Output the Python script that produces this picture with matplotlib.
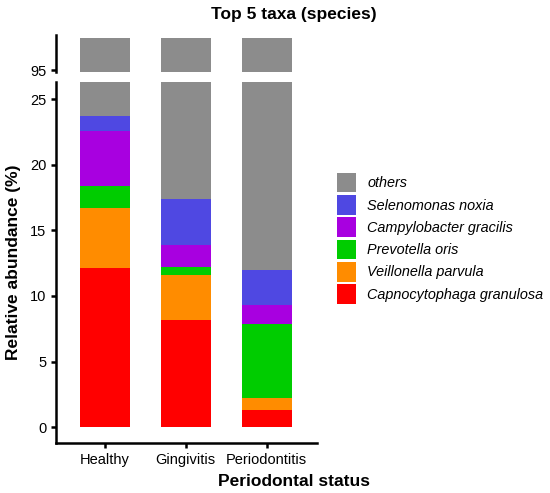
import matplotlib
matplotlib.use('Agg')
import numpy as np
import matplotlib.pyplot as plt
from matplotlib.patches import Patch

plt.rcParams['font.family'] = ['Liberation Sans', 'DejaVu Sans']

# data (relative abundance %)
groups = ['Healthy', 'Gingivitis', 'Periodontitis']
taxa = ['Capnocytophaga granulosa', 'Veillonella parvula', 'Prevotella oris',
        'Campylobacter gracilis', 'Selenomonas noxia', 'others']
capnocytophaga = [12.1, 8.17, 1.30]
veillonella = [4.6, 3.46, 0.89]
prevotella = [1.65, 0.56, 5.70]
campylobacter = [4.25, 1.66, 1.42]
selenomonas = [1.1, 3.53, 2.69]
others = [76.3, 82.62, 88.0]
colors = ['#FF0000', '#FF8C00', '#00CC00', '#A800E0', '#4F48E2', '#8C8C8C']

series = [capnocytophaga, veillonella, prevotella, campylobacter, selenomonas, others]

fig = plt.figure(figsize=(5.5, 4.93), dpi=100)
ax_lo = fig.add_axes([56/550, 1-443/493, 261/550, 361/493])
ax_hi = fig.add_axes([56/550, 1-72/493, 261/550, 37/493])

x = np.arange(1, len(groups) + 1)
for ax in (ax_lo, ax_hi):
    bottom = np.zeros(len(groups))
    for vals, col in zip(series, colors):
        ax.bar(x, vals, bottom=bottom, width=0.62, color=col, linewidth=0)
        bottom += np.array(vals)
    ax.set_xlim(0.4, 3.62)
    for s in ['top', 'right']:
        ax.spines[s].set_visible(False)
    ax.spines['left'].set_linewidth(1.8)
    ax.tick_params(axis='both', width=1.8, length=3.5, labelsize=10.5, colors='black')

ax_lo.set_ylim(-1.2, 26.3)
ax_lo.set_yticks([0, 5, 10, 15, 20, 25])
ax_lo.spines['bottom'].set_linewidth(1.8)
ax_lo.set_xticks(x)
ax_lo.set_xticklabels(groups)

ax_hi.set_ylim(94.7, 100.5)
ax_hi.set_yticks([95])
ax_hi.spines['bottom'].set_visible(False)
ax_hi.set_xticks([])

fig.text(294/550, 1-14/493, 'Top 5 taxa (species)', ha='center', va='center',
         fontsize=12.5, fontweight='bold')
fig.text(294/550, 1-481/493, 'Periodontal status', ha='center', va='center',
         fontsize=12.5, fontweight='bold')
fig.text(14/550, 1-262/493, 'Relative abundance (%)', ha='center', va='center',
         rotation=90, fontsize=12.5, fontweight='bold')

handles = [Patch(facecolor=c, edgecolor='none') for c in colors][::-1]
labels = taxa[::-1]
leg = fig.legend(handles, labels, loc='upper left', bbox_to_anchor=(325/550, 1-161/493),
                 frameon=False, fontsize=10.4, handlelength=1.38, handleheight=1.74,
                 labelspacing=0.17, handletextpad=0.75, borderpad=0.3)
for t in leg.get_texts():
    t.set_fontstyle('italic')

fig.savefig('out.png', dpi=100)
